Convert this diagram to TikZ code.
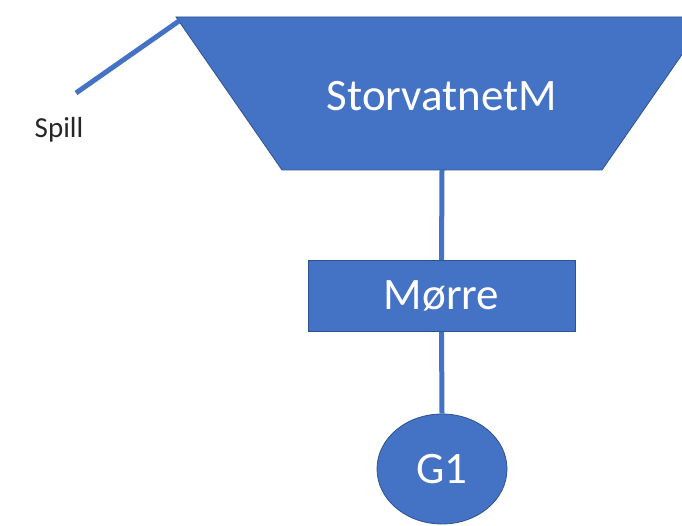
\documentclass[tikz,border=0pt]{standalone}
\usepackage{fontspec}
\setmainfont{Carlito}
\usetikzlibrary{shapes.geometric}
\definecolor{boxblue}{HTML}{4472C4}
\definecolor{edgeblue}{HTML}{2F528F}
\begin{document}
\begin{tikzpicture}[x=1pt,y=-1pt,
  shapefill/.style={fill=boxblue,draw=edgeblue,line width=0.8pt},
  whitetext/.style={text=white,font=\fontsize{45}{50}\selectfont,inner sep=0pt},
  link/.style={draw=boxblue,line width=5pt}]
  \useasboundingbox (0,0) rectangle (682,526);
  % reservoir corners
  \coordinate (resTL) at (176,17);
  \coordinate (resTR) at (708,17);
  \coordinate (resBR) at (602,170);
  \coordinate (resBL) at (282,170);
  \coordinate (resOut) at (442,170);
  \coordinate (spillEnd) at (76,93);
  \coordinate (spillTop) at (179,21);
  % reservoir trapezoid, cut at the page edge
  \begin{scope}
    \clip (0,0) rectangle (682,526);
    \path[shapefill] (resTL) -- (resTR) -- (resBR) -- (resBL) -- cycle;
  \end{scope}
  \node[whitetext] (res) at (442,96) {StorvatnetM};
  % plant box
  \node[shapefill,minimum width=267pt,minimum height=71pt,inner sep=0pt,
        whitetext] (morre) at (441.5,296) {Mørre};
  % generator
  \node[shapefill,ellipse,minimum width=130pt,minimum height=110pt,inner sep=0pt,
        whitetext] (g1) at (442,469) {G1};
  % connectors between the shapes
  \draw[link] (spillEnd) -- (spillTop);
  \draw[link] (resOut) -- (morre.north);
  \draw[link] (morre.south) -- (g1.north);
  % spill label
  \node[font=\fontsize{29}{32}\selectfont,text=black!85,inner sep=0pt] (spill) at (59,130) {Spill};
\end{tikzpicture}
\end{document}
